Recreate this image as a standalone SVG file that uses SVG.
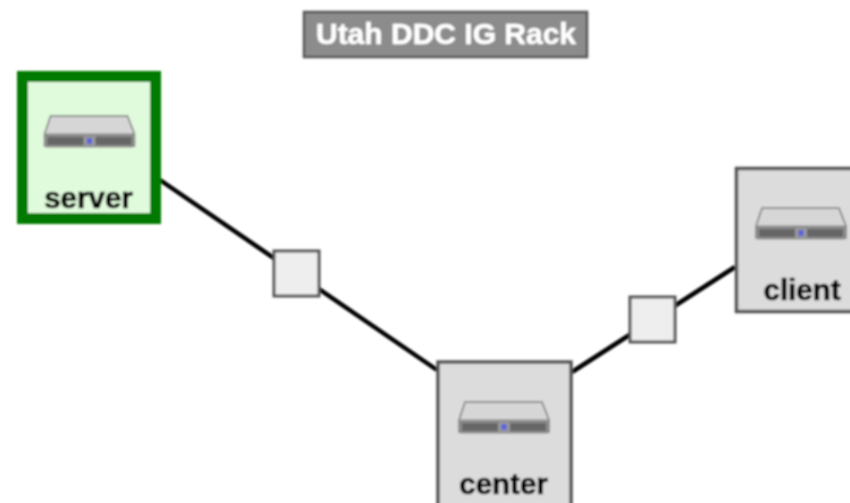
<svg xmlns="http://www.w3.org/2000/svg" width="850" height="503" viewBox="0 0 850 503">
<style>
text{font-family:"Liberation Sans",Arial,sans-serif;font-weight:bold;text-anchor:middle}
.label{font-size:29.500px;fill:#000;stroke:#000;stroke-width:0.7}
.title{font-size:30px;fill:#fff;stroke:#fff;stroke-width:0.5}
.box{fill:#dcdcdc;stroke:#555;stroke-width:3.5}
.hub{fill:#eeeeee;stroke:#555;stroke-width:3}
.wire{stroke:#000;stroke-width:4.500;fill:none}
</style>
<defs>
<filter id="soft" x="-5%" y="-5%" width="110%" height="110%"><feGaussianBlur stdDeviation="0.8"/></filter>
<g id="srv">
<path d="M-39 -31H38L45 -13V-1H-45V-13Z" fill="#d6d6d6" stroke="#777" stroke-width="1.500"/>
<rect x="-45" y="-13" width="90" height="13" rx="2" fill="#8c8c8c" stroke="#8a8a8a"/>
<rect x="-42" y="-10" width="84" height="8" fill="#666"/>
<rect x="-6" y="-11" width="12" height="10" fill="#999"/>
<rect x="-2.500" y="-9" width="5" height="6" fill="#5a64dc"/>
</g>
</defs>
<rect width="850" height="503" fill="#fff"/>
<g filter="url(#soft)">
<g id="connectors">
<path class="wire" d="M160 180L437 370"/>
<path class="wire" d="M572 372L735 267"/>
</g>
<g id="title">
<rect x="304" y="12" width="283" height="45" fill="#8c8c8c" stroke="#555" stroke-width="2.500"/>
<text class="title" x="446" y="44">Utah DDC IG Rack</text>
</g>
<g id="server">
<rect x="22.500" y="76.500" width="133" height="142" fill="#e0fbdc" stroke="#007a00" stroke-width="11"/>
<use href="#srv" x="89.500" y="147"/>
<text class="label" x="88.500" y="208">server</text>
</g>
<g id="center">
<rect class="box" x="438" y="362" width="133" height="150"/>
<use href="#srv" x="504" y="433"/>
<text class="label" x="503.500" y="494">center</text>
</g>
<g id="client">
<rect class="box" x="736.500" y="168.500" width="133" height="143"/>
<use href="#srv" x="801" y="239"/>
<text class="label" x="802" y="300">client</text>
</g>
<g id="hub1"><rect class="hub" x="274" y="251" width="45" height="45"/></g>
<g id="hub2"><rect class="hub" x="630" y="297" width="45" height="45"/></g>
</g>
</svg>
